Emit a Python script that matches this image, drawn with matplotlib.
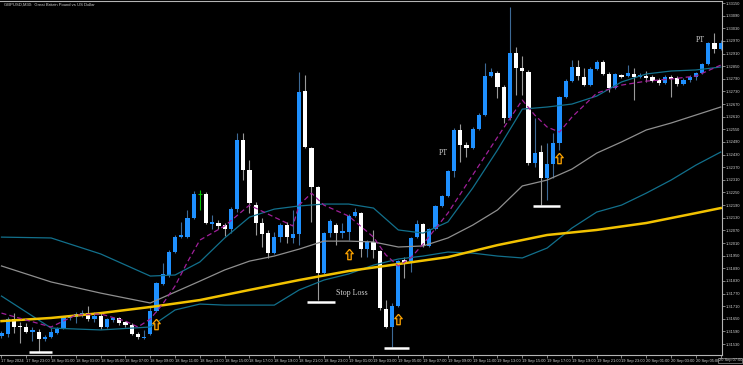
import numpy as np
import matplotlib
matplotlib.use("Agg")
from matplotlib import pyplot as plt
from matplotlib.path import Path

# GBPUSD M30, bar 0 = 17 Sep 2024 21:00
opens = [1.31568, 1.31578, 1.31649, 1.31616, 1.31611, 1.31587, 1.31587, 1.31554, 1.31563, 1.31582,
         1.31606, 1.31654, 1.31658, 1.31673, 1.31677, 1.31649, 1.31663, 1.31611, 1.31644, 1.31654,
         1.31635, 1.31620, 1.31578, 1.31559, 1.31578, 1.31687, 1.31815, 1.31858, 1.31967, 1.32038,
         1.32038, 1.32129, 1.32243, 1.32243, 1.32100, 1.32105, 1.32095, 1.32076, 1.32171, 1.32499,
         1.32357, 1.32190, 1.32105, 1.32057, 1.31962, 1.32038, 1.32095, 1.32034, 1.32053, 1.32732,
         1.32461, 1.32276, 1.31867, 1.32057, 1.32095, 1.32057, 1.32062, 1.32138, 1.32152, 1.31981,
         1.32015, 1.31972, 1.31696, 1.31611, 1.31711, 1.31929, 1.31924, 1.32038, 1.32100, 1.31996,
         1.32076, 1.32186, 1.32233, 1.32352, 1.32547, 1.32475, 1.32461, 1.32551, 1.32618, 1.32803,
         1.32817, 1.32751, 1.32604, 1.32912, 1.32841, 1.32822, 1.32390, 1.32442, 1.32319, 1.32385,
         1.32485, 1.32703, 1.32779, 1.32846, 1.32798, 1.32760, 1.32836, 1.32870, 1.32813, 1.32746,
         1.32808, 1.32803, 1.32813, 1.32798, 1.32803, 1.32798, 1.32784, 1.32770, 1.32798, 1.32794,
         1.32765, 1.32784, 1.32798, 1.32817, 1.32860, 1.32960, 1.32931]
highs = [1.31592, 1.31658, 1.31677, 1.31635, 1.31630, 1.31611, 1.31601, 1.31573, 1.31606, 1.31611,
         1.31663, 1.31668, 1.31682, 1.31692, 1.31711, 1.31682, 1.31677, 1.31654, 1.31658, 1.31658,
         1.31639, 1.31630, 1.31587, 1.31597, 1.31706, 1.31825, 1.31915, 1.31977, 1.32048, 1.32110,
         1.32167, 1.32257, 1.32262, 1.32252, 1.32143, 1.32119, 1.32105, 1.32181, 1.32532, 1.32532,
         1.32404, 1.32205, 1.32129, 1.32072, 1.32062, 1.32105, 1.32110, 1.32167, 1.32822, 1.32808,
         1.32466, 1.32281, 1.32062, 1.32124, 1.32105, 1.32105, 1.32148, 1.32176, 1.32157, 1.32024,
         1.32072, 1.31977, 1.31739, 1.31725, 1.31929, 1.31943, 1.32038, 1.32119, 1.32105, 1.32081,
         1.32190, 1.32238, 1.32357, 1.32556, 1.32575, 1.32490, 1.32561, 1.32627, 1.32865, 1.32841,
         1.32827, 1.32760, 1.33131, 1.32941, 1.32898, 1.32832, 1.32604, 1.32475, 1.32485, 1.32532,
         1.32708, 1.32789, 1.32879, 1.32879, 1.32841, 1.32846, 1.32879, 1.32879, 1.32822, 1.32817,
         1.32813, 1.32855, 1.32841, 1.32817, 1.32827, 1.32808, 1.32794, 1.32808, 1.32808, 1.32803,
         1.32794, 1.32808, 1.32822, 1.32865, 1.32965, 1.33007, 1.32974]
lows = [1.31559, 1.31563, 1.31582, 1.31535, 1.31582, 1.31544, 1.31492, 1.31544, 1.31559, 1.31578,
        1.31601, 1.31644, 1.31630, 1.31658, 1.31639, 1.31635, 1.31601, 1.31606, 1.31635, 1.31620,
        1.31611, 1.31573, 1.31554, 1.31554, 1.31573, 1.31682, 1.31810, 1.31848, 1.31962, 1.32034,
        1.32034, 1.32124, 1.32167, 1.32100, 1.32076, 1.32076, 1.32043, 1.32057, 1.32157, 1.32309,
        1.32152, 1.32048, 1.31991, 1.31939, 1.31958, 1.32015, 1.32010, 1.32010, 1.32000, 1.32461,
        1.32110, 1.31739, 1.31863, 1.32038, 1.32000, 1.32034, 1.32024, 1.32133, 1.31943, 1.31943,
        1.31939, 1.31692, 1.31606, 1.31516, 1.31706, 1.31844, 1.31872, 1.32034, 1.31991, 1.31991,
        1.32072, 1.32181, 1.32228, 1.32323, 1.32395, 1.32418, 1.32456, 1.32547, 1.32613, 1.32798,
        1.32699, 1.32580, 1.32594, 1.32713, 1.32713, 1.32380, 1.32371, 1.32190, 1.32214, 1.32319,
        1.32452, 1.32699, 1.32775, 1.32784, 1.32756, 1.32756, 1.32832, 1.32808, 1.32727, 1.32741,
        1.32794, 1.32798, 1.32689, 1.32794, 1.32775, 1.32775, 1.32760, 1.32765, 1.32703, 1.32756,
        1.32760, 1.32775, 1.32784, 1.32813, 1.32855, 1.32912, 1.32927]
closes = [1.31582, 1.31649, 1.31611, 1.31611, 1.31587, 1.31597, 1.31554, 1.31563, 1.31587, 1.31601,
          1.31658, 1.31658, 1.31673, 1.31677, 1.31649, 1.31663, 1.31611, 1.31649, 1.31654, 1.31630,
          1.31620, 1.31578, 1.31563, 1.31563, 1.31687, 1.31820, 1.31863, 1.31967, 1.32038, 1.32048,
          1.32129, 1.32243, 1.32243, 1.32105, 1.32110, 1.32091, 1.32076, 1.32171, 1.32499, 1.32357,
          1.32200, 1.32105, 1.32053, 1.31962, 1.32038, 1.32095, 1.32038, 1.32053, 1.32727, 1.32466,
          1.32276, 1.31867, 1.32057, 1.32114, 1.32057, 1.32067, 1.32138, 1.32157, 1.31981, 1.32015,
          1.31977, 1.31701, 1.31611, 1.31711, 1.31924, 1.31910, 1.32034, 1.32100, 1.31996, 1.32076,
          1.32186, 1.32233, 1.32352, 1.32547, 1.32475, 1.32461, 1.32551, 1.32618, 1.32803, 1.32822,
          1.32751, 1.32604, 1.32912, 1.32841, 1.32827, 1.32390, 1.32437, 1.32319, 1.32385, 1.32485,
          1.32703, 1.32779, 1.32846, 1.32803, 1.32760, 1.32836, 1.32870, 1.32813, 1.32746, 1.32813,
          1.32798, 1.32817, 1.32798, 1.32808, 1.32794, 1.32779, 1.32770, 1.32798, 1.32789, 1.32765,
          1.32784, 1.32798, 1.32817, 1.32860, 1.32960, 1.32931, 1.32960]

# indicator lines, read at a subset of bars
slow_ma_bars = [0, 8, 16, 24, 32, 40, 48, 56, 64, 72, 80, 88, 96, 104, 112, 116]
slow_ma = [1.31639, 1.31654, 1.31677, 1.31706, 1.31739, 1.31787, 1.31834, 1.31877, 1.31910,
           1.31943, 1.32000, 1.32048, 1.32072, 1.32105, 1.32152, 1.32176]

band_bars = [0, 8, 16, 24, 28, 32, 36, 40, 44, 48, 52, 56, 60, 64, 68, 72, 76, 80, 84, 88,
             92, 96, 100, 104, 108, 112, 116]
band_upper = [1.32038, 1.32034, 1.31958, 1.31853, 1.31858, 1.31920, 1.32034, 1.32133, 1.32171,
              1.32186, 1.32195, 1.32195, 1.32176, 1.32072, 1.32057, 1.32110, 1.32271, 1.32452,
              1.32646, 1.32656, 1.32670, 1.32708, 1.32775, 1.32813, 1.32827, 1.32832, 1.32846]
band_mid = [1.31901, 1.31825, 1.31772, 1.31725, 1.31777, 1.31829, 1.31882, 1.31924, 1.31948,
            1.31981, 1.32019, 1.32019, 1.32015, 1.31991, 1.31996, 1.32034, 1.32095, 1.32167,
            1.32281, 1.32309, 1.32361, 1.32437, 1.32490, 1.32547, 1.32580, 1.32618, 1.32656]
band_lower = [1.31758, 1.31606, 1.31597, 1.31611, 1.31692, 1.31720, 1.31715, 1.31715, 1.31715,
              1.31787, 1.31834, 1.31863, 1.31905, 1.31934, 1.31948, 1.31967, 1.31962, 1.31948,
              1.31939, 1.31986, 1.32081, 1.32157, 1.32190, 1.32247, 1.32309, 1.32380, 1.32442]

fast_ma_bars = [0, 4, 8, 12, 16, 20, 22, 24, 26, 28, 30, 32, 36, 40, 44, 47, 48, 50, 52, 56,
                60, 62, 64, 66, 68, 72, 76, 80, 84, 86, 88, 90, 92, 96, 100, 104, 108, 112, 116]
fast_ma = [1.31677, 1.31644, 1.31611, 1.31668, 1.31673, 1.31639, 1.31611, 1.31649, 1.31720,
           1.31806, 1.31920, 1.32024, 1.32091, 1.32190, 1.32133, 1.32091, 1.32190, 1.32247,
           1.32190, 1.32138, 1.32038, 1.31953, 1.31901, 1.31939, 1.32005, 1.32152, 1.32333,
           1.32513, 1.32689, 1.32618, 1.32561, 1.32537, 1.32608, 1.32722, 1.32760, 1.32779,
           1.32789, 1.32803, 1.32855]

# buy arrows and stop-loss markers
arrow_bars = [25, 56, 64, 90]
arrow_prices = [1.31623, 1.31960, 1.31651, 1.32416]
stop_prices = [1.31490, 1.31730, 1.31513, 1.32186]
stop_from = [4.5, 49.2, 61.7, 85.7]
stop_to = [8.1, 53.8, 65.7, 90.1]
pt_bars = [71.2, 112.8]
pt_prices = [1.32438, 1.32974]

price_ticks = [1.31530 + 0.0006 * k for k in range(28)]
time_labels = ["17 Sep 2024", "17 Sep 23:00",
               "18 Sep 01:00", "18 Sep 03:00", "18 Sep 05:00", "18 Sep 07:00", "18 Sep 09:00",
               "18 Sep 11:00", "18 Sep 13:00", "18 Sep 15:00", "18 Sep 17:00", "18 Sep 19:00",
               "18 Sep 21:00", "18 Sep 23:00",
               "19 Sep 01:00", "19 Sep 03:00", "19 Sep 05:00", "19 Sep 07:00", "19 Sep 09:00",
               "19 Sep 11:00", "19 Sep 13:00", "19 Sep 15:00", "19 Sep 17:00", "19 Sep 19:00",
               "19 Sep 21:00", "19 Sep 23:00",
               "20 Sep 01:00", "20 Sep 03:00", "20 Sep 05:00", "20 Sep 07:00"]

bull = "#1e90ff"
bear = "white"
axis_col = "#b4b4b4"
text_col = "#d0d0d0"

fig = plt.figure(figsize=(7.43, 3.65), dpi=100, facecolor="black")
ax = fig.add_axes([0.0, 10 / 365, 722 / 743, 354 / 365], facecolor="black")

o = np.array(opens)
h = np.array(highs)
l = np.array(lows)
c = np.array(closes)
x = np.arange(len(o))
up = c > o
down = c < o
flat = c == o
w = 0.65

# wicks
ax.vlines(x[up], l[up], h[up], color="#3d6a96", lw=0.8, zorder=2)
ax.vlines(x[down], l[down], h[down], color="#9a9a9a", lw=0.8, zorder=2)
ax.vlines(x[flat], l[flat], h[flat], color="#00c000", lw=0.8, zorder=2)
# bodies
ax.bar(x[up], c[up] - o[up], bottom=o[up], width=w, color=bull, linewidth=0, zorder=3)
ax.bar(x[down], o[down] - c[down], bottom=c[down], width=w, color=bear, linewidth=0, zorder=3)
ax.hlines(o[flat], x[flat] - w / 2, x[flat] + w / 2, color="#00c000", lw=0.8, zorder=3)

# indicators
ax.plot(band_bars, band_upper, color="#12708c", lw=0.9, zorder=4)
ax.plot(band_bars, band_lower, color="#12708c", lw=0.9, zorder=4)
ax.plot(band_bars, band_mid, color="#8f8f8f", lw=0.9, zorder=4)
ax.plot(slow_ma_bars, slow_ma, color="#f2c200", lw=1.8, zorder=4)
ax.plot(fast_ma_bars, fast_ma, color="#a0209a", lw=0.9, ls=(0, (4, 2.5)), zorder=4)

# up arrow marker
arrow = Path([(0, 1), (-0.72, 0.15), (-0.33, 0.15), (-0.33, -1), (0.33, -1),
              (0.33, 0.15), (0.72, 0.15), (0, 1)])
ax.plot(arrow_bars, arrow_prices, ls="none", marker=arrow, markersize=7.5,
        mfc="#1a1000", mec="#ffa500", mew=0.9, zorder=5)

ax.hlines(stop_prices, stop_from, stop_to, color="white", lw=1.8, zorder=5)
for b, p in zip(pt_bars, pt_prices):
    ax.text(b, p, "PT", color=text_col, fontsize=5.8, family="Liberation Serif",
            ha="center", va="center", zorder=6)
ax.text(56.5, 1.31774, "Stop Loss", color=text_col, fontsize=5.8, family="Liberation Serif",
        ha="center", va="center", zorder=6)

ax.set_xlim(-0.24, 116.21)
ax.set_ylim(1.31478, 1.331596)

ax.yaxis.tick_right()
ax.set_yticks(price_ticks)
ax.set_yticklabels([f"{p:.5f}" for p in price_ticks])
ax.set_xticks(np.arange(0, 117, 4))
# last label is drawn boxed at the right edge, like the terminal does
ax.set_xticklabels(time_labels[:-1] + [""])
for t in ax.get_xticklabels():
    t.set_ha("left")
ax.tick_params(axis="both", colors=axis_col, labelcolor=text_col, labelsize=2.9,
               length=2, width=0.5, pad=1, direction="out")
for t in ax.get_xticklabels() + ax.get_yticklabels():
    t.set_family("Liberation Sans")
fig.text(742 / 743, 1 - 360.5 / 365, time_labels[-1], color=text_col, fontsize=2.9,
         family="Liberation Sans", ha="right", va="center",
         bbox=dict(facecolor="black", edgecolor=axis_col, lw=0.4, pad=0.3))

for s in ax.spines.values():
    s.set_color(axis_col)
    s.set_linewidth(0.8)
ax.spines["left"].set_visible(False)

fig.text(4 / 743, 1 - 3 / 365, "GBPUSD,M30:  Great Britain Pound vs US Dollar",
         color=text_col, fontsize=3.0, family="Liberation Sans", va="top")

fig.savefig("out.png", dpi=100, facecolor="black")
